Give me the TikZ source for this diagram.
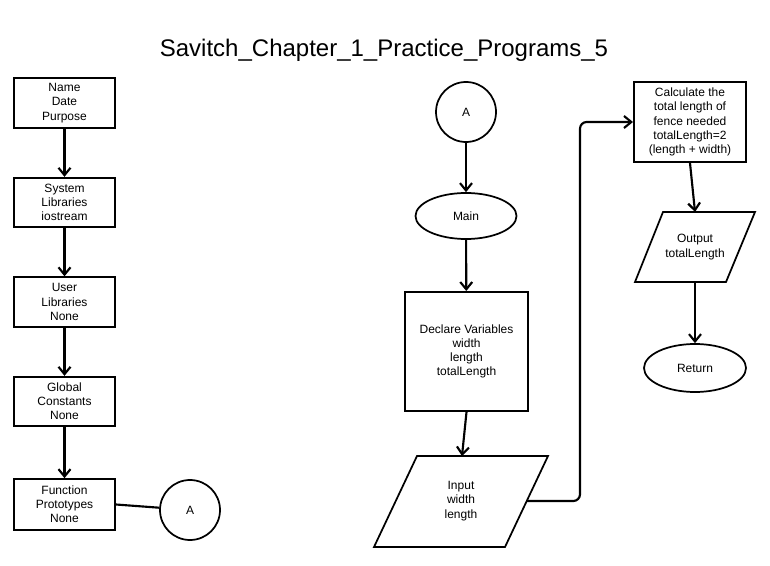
\documentclass[tikz,border=0pt]{standalone}
\usepackage{fontspec}
\setmainfont{Liberation Sans}
\usetikzlibrary{arrows.meta,shapes.geometric}
\tikzset{
  every node/.style={font=\fontsize{9}{10.6}\selectfont, align=center, text=black},
  box/.style={draw, line width=1.5pt, rectangle, inner sep=0pt},
  lbox/.style={box, minimum width=75.75pt, minimum height=37pt},
  circ/.style={draw, line width=1.3pt, circle, minimum size=45pt, inner sep=0pt},
  oval/.style={draw, line width=1.3pt, ellipse, inner sep=0pt},
  arr/.style={line width=1.6pt, -{Straight Barb[length=5.5pt,width=9pt]}},
  conn/.style={line width=1.6pt},
  para/.style={draw, line width=1.3pt, line join=miter}
}
\begin{document}
\begin{tikzpicture}[x=0.75pt,y=-0.75pt]
\useasboundingbox (0,0) rectangle (770,566);
\fill[white] (0,0) rectangle (770,566);
\node[font=\fontsize{18}{22}\selectfont] (title) at (384,50) {Savitch\_Chapter\_1\_Practice\_Programs\_5};

% left column
\node[lbox] (b1) at (64.5,103) {Name\\Date\\Purpose};
\node[lbox] (b2) at (64.5,202.5) {System\\Libraries\\iostream};
\node[lbox] (b3) at (64.5,302) {User\\Libraries\\None};
\node[lbox] (b4) at (64.5,401.5) {Global\\Constants\\None};
\node[lbox, minimum height=38pt] (b5) at (64.5,504.5) {Function\\Prototypes\\None};
\node[circ] (a1) at (190,510) {A};
\draw[arr] (b1) -- (b2);
\draw[arr] (b2) -- (b3);
\draw[arr] (b3) -- (b4);
\draw[arr] (b4) -- (b5);
\draw[conn] (b5.east) -- (a1);

% middle column
\node[circ] (a2) at (466,112) {A};
\node[oval, minimum width=75.75pt, minimum height=34.5pt] (main) at (466,216) {Main};
\node[box, minimum width=92.25pt, minimum height=89.25pt] (decl) at (466.5,351.5) {Declare Variables\\width\\length\\totalLength};
\coordinate (intl) at (417,456);
\coordinate (intr) at (548,456);
\coordinate (inbr) at (505,547);
\coordinate (inbl) at (374,547);
\draw[para] (intl) -- (intr) -- (inbr) -- (inbl) -- cycle;
\node (input) at (461,501) {Input\\width\\length};
\coordinate (intop) at (462,456);
\coordinate (inr) at (527,501);
\draw[arr] (a2) -- (main);
\draw[arr] (main) -- (decl);
\draw[arr] (decl.south) -- (intop);

% right column
\node[box, minimum width=84pt, minimum height=60pt] (calc) at (690,122) {Calculate the\\total length of\\fence needed\\totalLength=2\\(length + width)};
\coordinate (bend) at (580,122);
\draw[arr, rounded corners=5pt] (inr) -| (bend) -- (calc.west);
\coordinate (outtl) at (663,212);
\coordinate (outtr) at (755,212);
\coordinate (outbr) at (726,282);
\coordinate (outbl) at (635,282);
\draw[para] (outtl) -- (outtr) -- (outbr) -- (outbl) -- cycle;
\node (output) at (695,247) {Output\\totalLength};
\coordinate (outtop) at (695,212);
\coordinate (outbot) at (695,282);
\draw[arr] (calc.south) -- (outtop);
\node[oval, minimum width=76.5pt, minimum height=36pt] (ret) at (695,368) {Return};
\draw[arr] (outbot) -- (ret);
\end{tikzpicture}
\end{document}
